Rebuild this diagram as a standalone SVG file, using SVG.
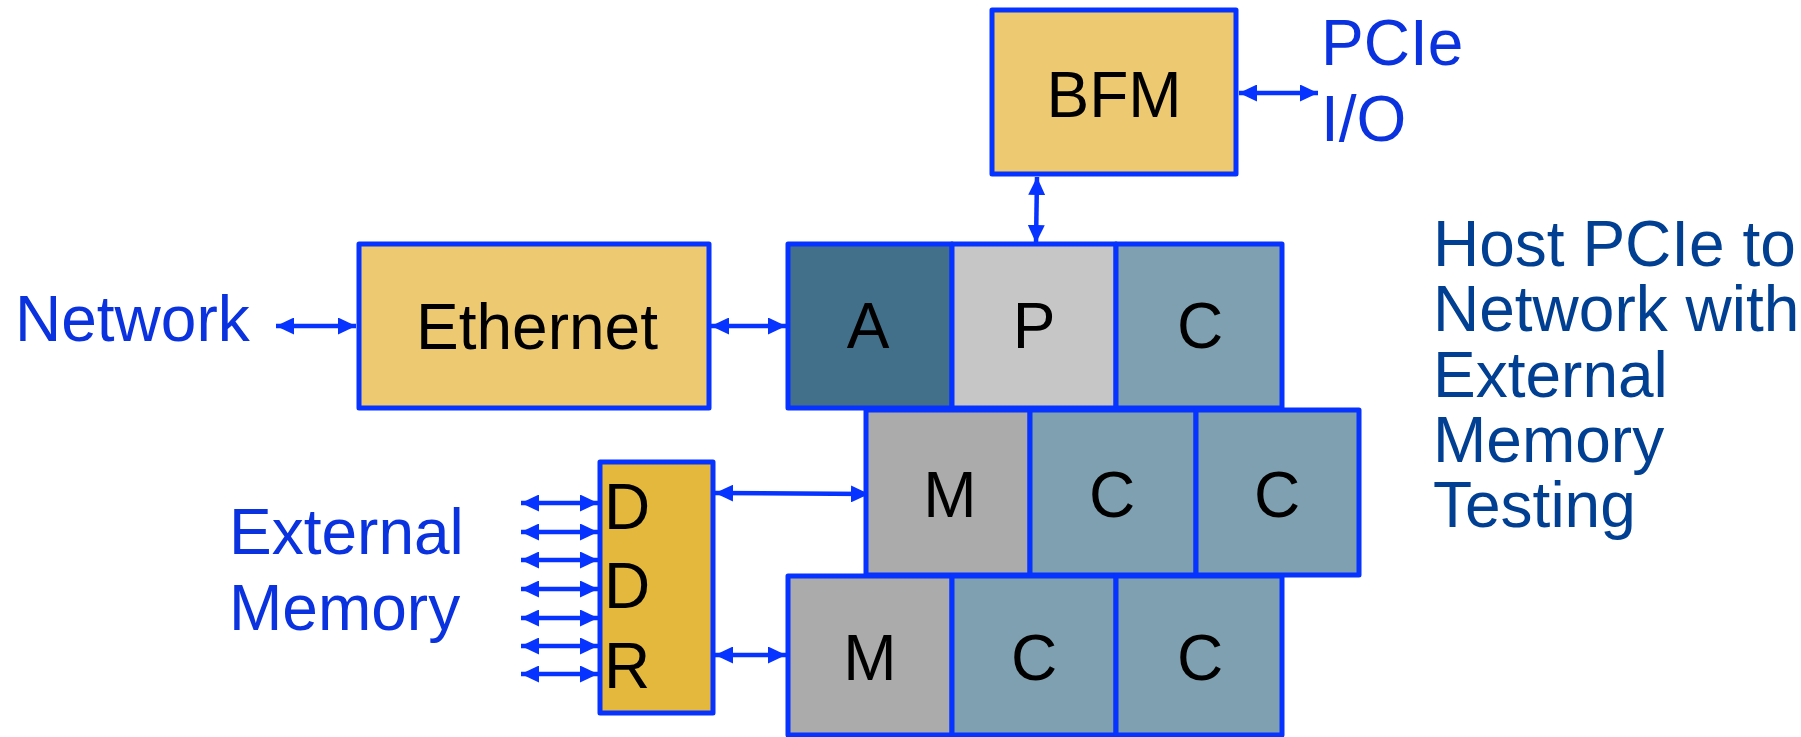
<svg xmlns="http://www.w3.org/2000/svg" width="1801" height="737" viewBox="0 0 1801 737">
  <style>
    .box { stroke: #0633FF; stroke-width: 5; stroke-linejoin: round; }
    .gold { fill: #EDCA71; }
    .ddr { fill: #E4B83D; }
    .acc { fill: #42708A; }
    .pcie { fill: #C6C6C6; }
    .core { fill: #7FA0B1; }
    .mem { fill: #ABABAB; }
    .lbl { font-family: "Liberation Sans", Arial, sans-serif; font-size: 64px; fill: #000; }
    .mid { text-anchor: middle; }
    .ext { font-family: "Liberation Sans", Arial, sans-serif; font-size: 64px; fill: #0A32DE; }
    .title { font-family: "Liberation Sans", Arial, sans-serif; font-size: 64px; fill: #003F91; }
    .link { stroke: #0633FF; stroke-width: 4.5; fill: none; marker-start: url(#head); marker-end: url(#head); }
  </style>
  <defs>
    <marker id="head" markerUnits="userSpaceOnUse" markerWidth="19" markerHeight="17" refX="18" refY="8.5" orient="auto-start-reverse" viewBox="0 0 19 17">
      <path d="M0,0 L18,8.5 L0,17 z" fill="#0633FF"/>
    </marker>
  </defs>

  <!-- Connectors -->
  <g id="connectors">
    <line class="link" x1="1239" y1="93" x2="1318" y2="93"/>
    <line class="link" x1="1037" y1="177" x2="1036" y2="243"/>
    <line class="link" x1="276" y1="326" x2="356" y2="326"/>
    <line class="link" x1="711" y1="326" x2="786" y2="326"/>
    <line class="link" x1="715" y1="493" x2="869" y2="494"/>
    <line class="link" x1="715" y1="655" x2="786" y2="655"/>
    <line class="link" x1="521" y1="503" x2="598" y2="503"/>
    <line class="link" x1="521" y1="532" x2="598" y2="532"/>
    <line class="link" x1="521" y1="560" x2="598" y2="560"/>
    <line class="link" x1="521" y1="589" x2="598" y2="589"/>
    <line class="link" x1="521" y1="618" x2="598" y2="618"/>
    <line class="link" x1="521" y1="646" x2="598" y2="646"/>
    <line class="link" x1="521" y1="674" x2="598" y2="674"/>
  </g>

  <!-- Bus functional model -->
  <g id="bfm">
    <rect class="box gold" x="992" y="10" width="244" height="164"/>
    <text class="lbl mid" x="1114" y="117">BFM</text>
  </g>

  <!-- Ethernet MAC -->
  <g id="ethernet">
    <rect class="box gold" x="359" y="244" width="350" height="164"/>
    <text class="lbl mid" x="537" y="349">Ethernet</text>
  </g>

  <!-- DDR controller -->
  <g id="ddr">
    <rect class="box ddr" x="600" y="462" width="113" height="251"/>
    <text class="lbl" x="604" y="529">D</text>
    <text class="lbl" x="604" y="608">D</text>
    <text class="lbl" x="604" y="688">R</text>
  </g>

  <!-- Tile grid: top row -->
  <g id="tile-a">
    <rect class="box acc" x="788" y="244" width="164" height="164"/>
    <text class="lbl mid" x="868" y="348">A</text>
  </g>
  <g id="tile-p">
    <rect class="box pcie" x="952" y="244" width="164" height="164"/>
    <text class="lbl mid" x="1034" y="348">P</text>
  </g>
  <g id="tile-c1">
    <rect class="box core" x="1116" y="244" width="166" height="164"/>
    <text class="lbl mid" x="1200" y="348">C</text>
  </g>

  <!-- Tile grid: middle row -->
  <g id="tile-m1">
    <rect class="box mem" x="866" y="410" width="164" height="165"/>
    <text class="lbl mid" x="950" y="517">M</text>
  </g>
  <g id="tile-c2">
    <rect class="box core" x="1030" y="410" width="166" height="165"/>
    <text class="lbl mid" x="1112" y="517">C</text>
  </g>
  <g id="tile-c3">
    <rect class="box core" x="1196" y="410" width="163" height="165"/>
    <text class="lbl mid" x="1277" y="517">C</text>
  </g>

  <!-- Tile grid: bottom row -->
  <g id="tile-m2">
    <rect class="box mem" x="788" y="576" width="164" height="159"/>
    <text class="lbl mid" x="870" y="680">M</text>
  </g>
  <g id="tile-c4">
    <rect class="box core" x="952" y="576" width="164" height="159"/>
    <text class="lbl mid" x="1034" y="680">C</text>
  </g>
  <g id="tile-c5">
    <rect class="box core" x="1116" y="576" width="166" height="159"/>
    <text class="lbl mid" x="1200" y="680">C</text>
  </g>

  <!-- External labels -->
  <g id="label-pcie">
    <text class="ext" x="1321" y="65">PCIe</text>
    <text class="ext" x="1321" y="141">I/O</text>
  </g>
  <g id="label-network">
    <text class="ext" x="15" y="341">Network</text>
  </g>
  <g id="label-memory">
    <text class="ext" x="229" y="554">External</text>
    <text class="ext" x="229" y="630">Memory</text>
  </g>
  <g id="title">
    <text class="title" x="1433" y="266">Host PCIe to</text>
    <text class="title" x="1433" y="331">Network with</text>
    <text class="title" x="1433" y="397">External</text>
    <text class="title" x="1433" y="462">Memory</text>
    <text class="title" x="1433" y="527">Testing</text>
  </g>
</svg>
